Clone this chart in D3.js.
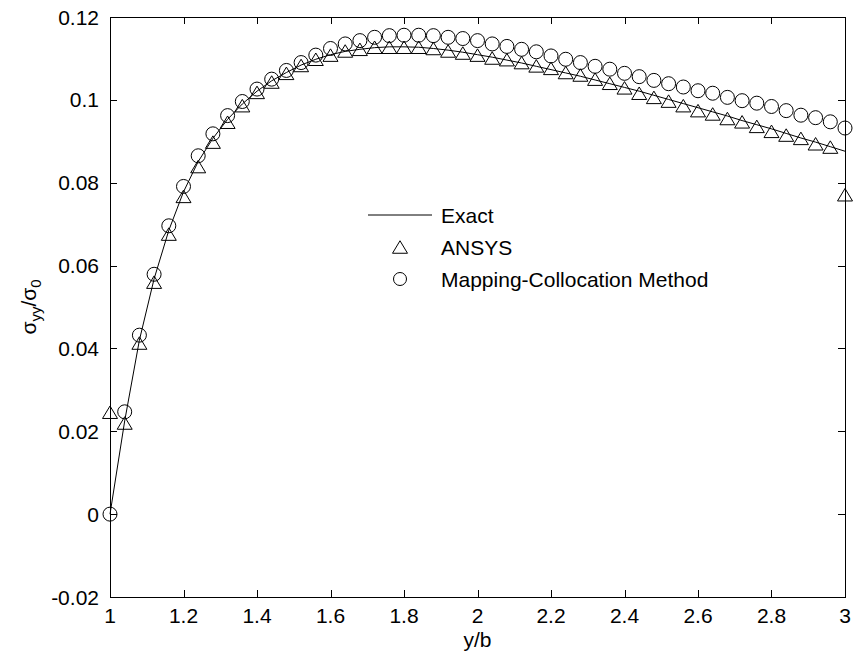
<!DOCTYPE html>
<html><head><meta charset="utf-8">
<script src="https://cdn.jsdelivr.net/npm/d3@7"></script>
<style>body{margin:0;background:#fff}svg{display:block}text{font-family:"Liberation Sans",Arial,sans-serif;fill:#000}</style>
</head><body>
<svg id="c" width="853" height="657"></svg>
<script>
const xs = [1.00,1.04,1.08,1.12,1.16,1.20,1.24,1.28,1.32,1.36,1.40,1.44,1.48,1.52,1.56,1.60,1.64,1.68,1.72,1.76,1.80,1.84,1.88,1.92,1.96,2.00,2.04,2.08,2.12,2.16,2.20,2.24,2.28,2.32,2.36,2.40,2.44,2.48,2.52,2.56,2.60,2.64,2.68,2.72,2.76,2.80,2.84,2.88,2.92,2.96,3.00];
const exact = [0,0.0225,0.0420,0.0568,0.0685,0.0778,0.0851,0.0907,0.0953,0.0990,0.1021,0.1046,0.1066,0.1084,0.1098,0.1109,0.1117,0.1122,0.1126,0.1128,0.1128,0.1127,0.1124,0.1120,0.1115,0.1109,0.1103,0.1096,0.1089,0.1081,0.1073,0.1065,0.1057,0.1048,0.1039,0.1030,0.1021,0.1011,0.1001,0.0991,0.0981,0.0971,0.0961,0.0950,0.0940,0.0930,0.0919,0.0908,0.0898,0.0887,0.0876];
const ansys = [0.0246,0.0220,0.0413,0.0560,0.0676,0.0767,0.0839,0.0898,0.0946,0.0986,0.1018,0.1043,0.1064,0.1083,0.1098,0.1108,0.1118,0.1122,0.1127,0.1127,0.1127,0.1127,0.1124,0.1118,0.1113,0.1108,0.1101,0.1097,0.1090,0.1082,0.1076,0.1066,0.1060,0.1050,0.1040,0.1029,0.1016,0.1006,0.0997,0.0986,0.0974,0.0966,0.0955,0.0947,0.0936,0.0924,0.0915,0.0907,0.0894,0.0886,0.0771];
const mcm = [0,0.0247,0.0432,0.0579,0.0696,0.0791,0.0865,0.0918,0.0962,0.0996,0.1026,0.1050,0.1071,0.1090,0.1108,0.1124,0.1135,0.1143,0.1151,0.1155,0.1156,0.1156,0.1155,0.1151,0.1148,0.1143,0.1135,0.1129,0.1122,0.1116,0.1106,0.1098,0.1090,0.1081,0.1074,0.1064,0.1056,0.1047,0.1039,0.1031,0.1022,0.1016,0.1006,0.0998,0.0992,0.0984,0.0974,0.0963,0.0957,0.0947,0.0932];
const xTicks = [1,1.2,1.4,1.6,1.8,2,2.2,2.4,2.6,2.8,3];
const yTicks = [-0.02,0,0.02,0.04,0.06,0.08,0.1,0.12];
const legendLabels = ["Exact","ANSYS","Mapping-Collocation Method"];

const svg = d3.select("#c");
const L=110,R=845,T=17,B=597;
const x = d3.scaleLinear().domain([1,3]).range([L,R]);
const y = d3.scaleLinear().domain([-0.02,0.12]).range([B,T]);
const fs = 21, tl = 7;

const fmt = v => String(+v.toFixed(4));

const g = svg.append("g").attr("stroke","#000").attr("fill","none").attr("stroke-width",1);
g.append("rect").attr("x",L+0.5).attr("y",T+0.5).attr("width",R-L).attr("height",B-T);
xTicks.forEach(t=>{
  const px=Math.round(x(t))+0.5;
  g.append("line").attr("x1",px).attr("x2",px).attr("y1",B).attr("y2",B-tl);
  g.append("line").attr("x1",px).attr("x2",px).attr("y1",T).attr("y2",T+tl);
  svg.append("text").attr("x",x(t)).attr("y",B+26).attr("text-anchor","middle").attr("font-size",fs).text(fmt(t));
});
yTicks.forEach(t=>{
  const py=Math.round(y(t))+0.5;
  g.append("line").attr("x1",L).attr("x2",L+tl).attr("y1",py).attr("y2",py);
  g.append("line").attr("x1",R).attr("x2",R-tl).attr("y1",py).attr("y2",py);
  svg.append("text").attr("x",L-11).attr("y",y(t)+7.5).attr("text-anchor","end").attr("font-size",fs).text(fmt(t));
});

svg.append("text").attr("x",(L+R)/2).attr("y",647).attr("text-anchor","middle").attr("font-size",fs).text("y/b");
const yl = svg.append("text").attr("transform","translate(36,"+(T+B)/2+") rotate(-90)").attr("text-anchor","middle").attr("font-size",fs);
yl.append("tspan").text("σ");
yl.append("tspan").attr("font-size",15).attr("dy",5).text("yy");
yl.append("tspan").attr("dy",-5).text("/σ");
yl.append("tspan").attr("font-size",15).attr("dy",5).text("0");

const line = d3.line().x((d,i)=>x(xs[i])).y(d=>y(d));
svg.append("path").datum(exact).attr("d",line).attr("fill","none").attr("stroke","#000").attr("stroke-width",1);

function triPath(cx,cy,w,h){return `M${cx},${cy-h/2}L${cx+w/2},${cy+h/2}L${cx-w/2},${cy+h/2}Z`;}
svg.append("g").selectAll("path").data(ansys).join("path")
  .attr("d",(d,i)=>triPath(x(xs[i]),y(d),15,12.5)).attr("fill","none").attr("stroke","#000").attr("stroke-width",1);
svg.append("g").selectAll("circle").data(mcm).join("circle")
  .attr("cx",(d,i)=>x(xs[i])).attr("cy",d=>y(d)).attr("r",7).attr("fill","none").attr("stroke","#000").attr("stroke-width",1);

const lx=368, tx=441, rows=[215,247,279];
svg.append("line").attr("x1",lx).attr("x2",432).attr("y1",rows[0]).attr("y2",rows[0]).attr("stroke","#000");
svg.append("path").attr("d",triPath(400,rows[1],15,12.5)).attr("fill","none").attr("stroke","#000");
svg.append("circle").attr("cx",400).attr("cy",rows[2]).attr("r",6.5).attr("fill","none").attr("stroke","#000");
legendLabels.forEach((s,i)=>svg.append("text").attr("x",tx).attr("y",rows[i]+7.5).attr("font-size",fs).text(s));
</script>
</body></html>
